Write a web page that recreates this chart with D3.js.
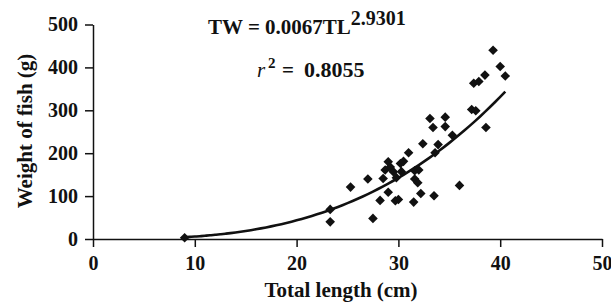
<!DOCTYPE html>
<html>
<head>
<meta charset="utf-8">
<title>Length-weight relationship</title>
<style>
  body { margin: 0; background: #fff; }
  svg { display: block; }
  text { font-family: "Liberation Serif", "Times New Roman", serif; font-weight: bold; fill: #111; }
  .axis path, .axis line { stroke: #111; stroke-width: 1.5; }
  .axis text { font-size: 20px; }
</style>
</head>
<body>
<div id="chart"></div>
<script src="https://cdn.jsdelivr.net/npm/d3@7"></script>
<script>

var width = 611,
    height = 305;

// total length (cm) of each fish
var lengths = [9.0, 23.3, 23.3, 25.3, 27.0, 27.5, 28.2, 28.5, 28.7, 29.0,
               29.0, 29.2, 29.5, 29.7, 29.8, 30.0, 30.2, 30.3, 30.5, 31.0,
               31.5, 31.6, 31.6, 31.9, 32.0, 32.2, 32.4, 33.1, 33.4, 33.5,
               33.6, 33.9, 34.6, 34.6, 35.3, 36.0, 37.2, 37.6, 37.4, 37.9,
               38.5, 38.6, 39.3, 40.0, 40.5];
// weight (g) of each fish
var weights = [3, 40, 69, 121, 140, 48, 90, 141, 161, 109,
               180, 168, 157, 89, 143, 92, 176, 157, 181, 201,
               86, 140, 159, 131, 161, 106, 222, 281, 260, 101,
               201, 220, 284, 262, 242, 125, 302, 299, 363, 367,
               382, 260, 440, 402, 380];

// fitted power curve TW = a * TL^b as printed on the chart
var fitA = 0.0067,
    fitB = 2.9301,
    fitFrom = 9,
    fitTo = 40.5;

var xTicks = [0, 10, 20, 30, 40, 50],
    yTicks = [0, 100, 200, 300, 400, 500];

var x = d3.scaleLinear().domain([0, 50]).range([93, 602]);
var y = d3.scaleLinear().domain([0, 500]).range([239, 24.5]);

var svg = d3.select("#chart").append("svg")
    .attr("width", width)
    .attr("height", height);

svg.append("g")
    .attr("class", "axis")
    .attr("transform", "translate(0," + y(0) + ")")
    .call(d3.axisBottom(x).tickValues(xTicks).tickSize(8).tickSizeOuter(0).tickPadding(9));

svg.append("g")
    .attr("class", "axis")
    .attr("transform", "translate(" + x(0) + ",0)")
    .call(d3.axisLeft(y).tickValues(yTicks).tickSize(8).tickSizeOuter(0).tickPadding(7));

svg.selectAll(".axis text").attr("fill", "#111");

// trend line
var curve = d3.range(fitFrom, fitTo + 0.01, 0.5).map(function(l) { return [l, fitA * Math.pow(l, fitB)]; });

svg.append("path")
    .datum(curve)
    .attr("fill", "none")
    .attr("stroke", "#111")
    .attr("stroke-width", 2.6)
    .attr("d", d3.line().x(function(d) { return x(d[0]); }).y(function(d) { return y(d[1]); }).curve(d3.curveMonotoneX));

// diamonds
var diamond = d3.symbol().type(d3.symbolSquare).size(46);

svg.append("g")
    .selectAll("path")
    .data(lengths)
    .enter().append("path")
    .attr("d", diamond)
    .attr("fill", "#111")
    .attr("transform", function(d, i) {
        return "translate(" + x(d) + "," + y(weights[i]) + ") rotate(45)";
    });

// equation
var eq = svg.append("text")
    .attr("x", 208)
    .attr("y", 34)
    .style("font-size", "21px");
eq.append("tspan").text("TW = 0.0067TL");
eq.append("tspan").attr("dy", -9).style("font-size", "20px").text("2.9301");

var r2 = svg.append("text")
    .attr("y", 77)
    .style("font-size", "21px");
r2.append("tspan").attr("x", 257).style("font-style", "italic").style("font-weight", "normal").text("r");
r2.append("tspan").attr("x", 268).attr("dy", -9).style("font-size", "15px").text("2");
r2.append("tspan").attr("x", 282).attr("dy", 9).text("=");
r2.append("tspan").attr("x", 304).style("font-size", "22px").text("0.8055");

// axis titles
svg.append("text")
    .attr("x", 341)
    .attr("y", 297)
    .attr("text-anchor", "middle")
    .style("font-size", "21px")
    .text("Total length (cm)");

svg.append("text")
    .attr("transform", "translate(32,131) rotate(-90)")
    .attr("text-anchor", "middle")
    .style("font-size", "21px")
    .text("Weight of fish (g)");

</script>
</body>
</html>
